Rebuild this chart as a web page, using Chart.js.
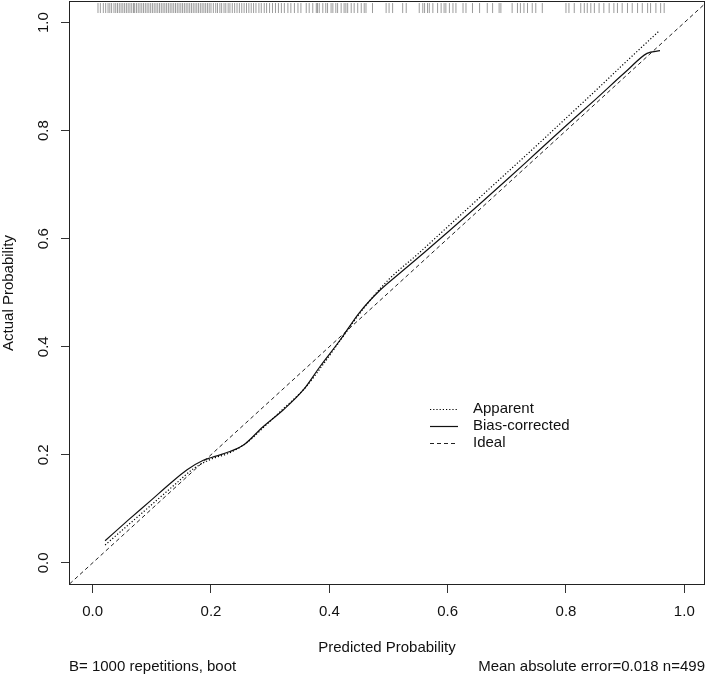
<!DOCTYPE html>
<html>
<head>
<meta charset="utf-8">
<script src="https://cdn.jsdelivr.net/npm/chart.js@4/dist/chart.umd.min.js"></script>
<style>
  body { margin: 0; background: #fff; }
</style>
</head>
<body>
<canvas id="GraficoCalibracao" width="709" height="676"></canvas>
<script>
// valores
var ticksEixo = [0, 0.2, 0.4, 0.6, 0.8, 1.0];

var aparenteX = [0.021, 0.06, 0.10, 0.14, 0.17, 0.20, 0.23, 0.26, 0.29, 0.32, 0.36, 0.39, 0.42, 0.46, 0.50, 0.55, 0.60, 0.65, 0.70, 0.75, 0.80, 0.85, 0.90, 0.956];
var aparenteY = [0.033, 0.070, 0.108, 0.146, 0.174, 0.192, 0.203, 0.222, 0.252, 0.283, 0.325, 0.368, 0.414, 0.474, 0.524, 0.572, 0.622, 0.672, 0.722, 0.772, 0.823, 0.874, 0.926, 0.983];

var corrigidoX = [0.021, 0.06, 0.10, 0.13, 0.159, 0.187, 0.201, 0.232, 0.255, 0.288, 0.322, 0.356, 0.384, 0.418, 0.45, 0.486, 0.52, 0.56, 0.60, 0.65, 0.70, 0.75, 0.80, 0.85, 0.90, 0.937, 0.959];
var corrigidoY = [0.041, 0.079, 0.117, 0.146, 0.172, 0.190, 0.195, 0.206, 0.218, 0.252, 0.283, 0.320, 0.363, 0.412, 0.462, 0.505, 0.537, 0.574, 0.612, 0.660, 0.709, 0.759, 0.809, 0.858, 0.908, 0.943, 0.948];

var idealX = [-0.1, 1.1];
var idealY = [-0.1, 1.1];

var rugX = [
  0.009, 0.013, 0.018, 0.022, 0.026, 0.029, 0.032, 0.036, 0.039, 0.042, 0.045, 0.048, 0.051, 0.054, 0.057,
  0.060, 0.063, 0.066, 0.069, 0.071, 0.074, 0.077, 0.080, 0.083, 0.086, 0.089, 0.092, 0.095, 0.098, 0.101,
  0.104, 0.107, 0.110, 0.113, 0.116, 0.119, 0.122, 0.125, 0.128, 0.131, 0.134, 0.137, 0.140, 0.143, 0.146,
  0.149, 0.152, 0.155, 0.158, 0.161, 0.164, 0.167, 0.170, 0.173, 0.176, 0.179, 0.182, 0.185, 0.188, 0.191,
  0.194, 0.197, 0.200, 0.204, 0.208, 0.211, 0.215, 0.218, 0.222, 0.225, 0.229, 0.232, 0.236, 0.240, 0.244,
  0.248, 0.252, 0.256, 0.260, 0.264, 0.268, 0.272, 0.276, 0.281, 0.285, 0.290, 0.294, 0.299, 0.304, 0.309,
  0.314, 0.319, 0.324,
  0.330, 0.335, 0.341, 0.347, 0.352, 0.361, 0.366, 0.372, 0.378, 0.380, 0.383, 0.389, 0.394, 0.397, 0.403,
  0.406, 0.411, 0.414, 0.420, 0.425, 0.428, 0.431, 0.437, 0.442, 0.448, 0.454, 0.459, 0.462, 0.473, 0.496,
  0.501, 0.507, 0.524, 0.530, 0.552, 0.558, 0.561, 0.566, 0.569, 0.575, 0.583, 0.589, 0.594, 0.597, 0.603,
  0.609, 0.614, 0.626, 0.631, 0.642, 0.654,
  0.667, 0.676, 0.687, 0.690, 0.709, 0.718, 0.723, 0.729, 0.735, 0.743, 0.749, 0.760, 0.800, 0.805, 0.814,
  0.825, 0.831, 0.836, 0.842, 0.848, 0.856, 0.864, 0.873, 0.881, 0.887, 0.895, 0.904, 0.912, 0.921, 0.929,
  0.938, 0.943, 0.952, 0.960, 0.966
];

function Pontos(xs, ys) {
    return xs.map(function (x, i) { return { x: x, y: ys[i] }; });
}

var fonte = { family: "'Liberation Sans', Arial, sans-serif", size: 15 };

var caixaELegenda = {
    id: 'caixaELegenda',
    afterDraw: function (chart) {
        var ctx = chart.ctx;
        var a = chart.chartArea;
        ctx.save();
        ctx.strokeStyle = '#222';
        ctx.lineWidth = 1;
        ctx.setLineDash([]);
        ctx.strokeRect(a.left + 0.5, a.top + 0.5, a.right - a.left - 1, a.bottom - a.top - 1);

        // legenda
        var itens = [0, 1, 2];
        var linhasY = [409, 426, 443];
        ctx.font = '15px ' + fonte.family;
        ctx.textBaseline = 'middle';
        ctx.textAlign = 'left';
        itens.forEach(function (d, i) {
            var ds = chart.data.datasets[d];
            ctx.strokeStyle = ds.borderColor;
            ctx.lineWidth = ds.borderWidth;
            ctx.setLineDash(ds.borderDash || []);
            ctx.beginPath();
            ctx.moveTo(430, linhasY[i] + 0.5);
            ctx.lineTo(458, linhasY[i] + 0.5);
            ctx.stroke();
            ctx.fillStyle = '#111';
            ctx.fillText(ds.label, 473, linhasY[i]);
        });

        // rodape
        ctx.fillStyle = '#111';
        ctx.textAlign = 'left';
        ctx.fillText('B= 1000 repetitions, boot', a.left, 667);
        ctx.textAlign = 'right';
        ctx.fillText('Mean absolute error=0.018 n=499', a.right, 667);
        ctx.restore();
    }
};

new Chart(document.getElementById("GraficoCalibracao"), {
    type: 'scatter',
    data: {
        datasets: [{
            label: "Apparent",
            data: Pontos(aparenteX, aparenteY),
            showLine: true,
            borderColor: "#000",
            borderWidth: 1.2,
            borderDash: [1.2, 2],
            pointRadius: 0,
            cubicInterpolationMode: 'monotone'
        }, {
            label: "Bias-corrected",
            data: Pontos(corrigidoX, corrigidoY),
            showLine: true,
            borderColor: "#111",
            borderWidth: 1.2,
            pointRadius: 0,
            cubicInterpolationMode: 'monotone'
        }, {
            label: "Ideal",
            data: Pontos(idealX, idealY),
            showLine: true,
            borderColor: "#222",
            borderWidth: 1,
            borderDash: [4, 3],
            pointRadius: 0
        }, {
            label: "rug",
            data: rugX.map(function (x) { return { x: x, y: 1.027 }; }),
            showLine: false,
            pointStyle: 'line',
            rotation: 90,
            pointRadius: 5,
            borderWidth: 1,
            borderColor: 'rgba(90,90,90,0.6)',
            clip: false
        }]
    },
    options: {
        responsive: false,
        animation: false,
        layout: { autoPadding: false, padding: { top: 1, right: 4, left: 0, bottom: 0 } },
        plugins: {
            legend: { display: false },
            tooltip: { enabled: false },
            title: { display: false }
        },
        scales: {
            x: {
                type: 'linear',
                min: -0.04,
                max: 1.035,
                afterFit: function (s) { s.height = 91; s.paddingLeft = 0; s.paddingRight = 0; },
                afterBuildTicks: function (s) { s.ticks = ticksEixo.map(function (v) { return { value: v }; }); },
                grid: { drawOnChartArea: false, drawTicks: true, tickLength: 8, color: '#333' },
                border: { display: false },
                ticks: {
                    font: fonte,
                    color: '#111',
                    padding: 10,
                    maxRotation: 0,
                    callback: function (v) { return v.toFixed(1); }
                },
                title: {
                    display: true,
                    text: 'Predicted Probability',
                    font: fonte,
                    color: '#111',
                    padding: { top: 0, bottom: 19 }
                }
            },
            y: {
                type: 'linear',
                min: -0.041,
                max: 1.04,
                afterFit: function (s) { s.width = 69; s.paddingTop = 0; s.paddingBottom = 0; },
                afterBuildTicks: function (s) { s.ticks = ticksEixo.map(function (v) { return { value: v }; }); },
                grid: { drawOnChartArea: false, drawTicks: true, tickLength: 8, color: '#333' },
                border: { display: false },
                ticks: {
                    font: fonte,
                    color: '#111',
                    padding: 7,
                    minRotation: 90,
                    maxRotation: 90,
                    crossAlign: 'center',
                    callback: function (v) { return v.toFixed(1); }
                },
                title: {
                    display: true,
                    text: 'Actual Probability',
                    font: fonte,
                    color: '#111',
                    padding: { top: 0, bottom: 0 }
                }
            }
        }
    },
    plugins: [caixaELegenda]
});
</script>
</body>
</html>
